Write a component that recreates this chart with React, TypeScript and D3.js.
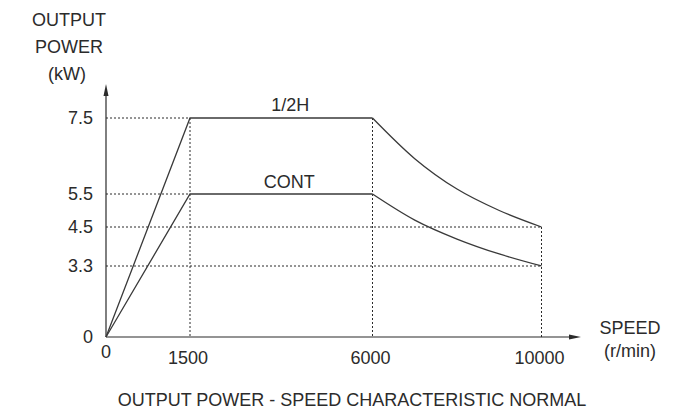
import React from "react";
import * as d3 from "d3";

const speedTicks = [0, 1500, 6000, 10000];
const powerTicks = [0, 3.3, 4.5, 5.5, 7.5];

// 1/2H rating
const halfSpeedRise = [0, 1500, 6000];
const halfPowerRise = [0, 7.5, 7.5];
const halfSpeedFall = [6000, 7000, 8000, 9000, 10000];
const halfPowerFall = [7.5, 6.43, 5.63, 5.0, 4.5];

// continuous rating
const contSpeedRise = [0, 1500, 6000];
const contPowerRise = [0, 5.5, 5.5];
const contSpeedFall = [6000, 7000, 8000, 9000, 10000];
const contPowerFall = [5.5, 4.71, 4.13, 3.67, 3.3];

// dotted guide lines: power level -> speed where it ends
const guidePower = [7.5, 5.5, 4.5, 3.3];
const guideSpeedEnd = [1500, 1500, 10000, 10000];
const guideSpeed = [1500, 6000, 10000];
const guidePowerTop = [7.5, 7.5, 4.5];

const W = 673;
const H = 413;
const FONT = "'Liberation Sans', Arial, sans-serif";
const INK = "#2b2b2b";
const FS = 18;

export default function App() {
  // the drawing is schematic, so both axes are piecewise linear
  const x = d3.scaleLinear().domain(speedTicks).range([106, 190, 372.5, 541.5]);
  const y = d3.scaleLinear().domain(powerTicks).range([337, 266, 227, 194, 118]);

  const straight = d3
    .line<[number, number]>()
    .x((d) => x(d[0]))
    .y((d) => y(d[1]));
  const smooth = d3
    .line<[number, number]>()
    .x((d) => x(d[0]))
    .y((d) => y(d[1]))
    .curve(d3.curveMonotoneX);

  const zip = (a: number[], b: number[]) =>
    a.map((v, i) => [v, b[i]] as [number, number]);

  const axisTop = 84;
  const axisRight = 581;
  const x0 = x(0);
  const y0 = y(0);

  return (
    <svg
      width={W}
      height={H}
      style={{ position: "absolute", left: 0, top: 0, background: "#fff" }}
      fontFamily={FONT}
    >
      {/* guides */}
      <g stroke={INK} strokeWidth={1} strokeDasharray="2,2" fill="none">
        {guidePower.map((p, i) => (
          <line key={"h" + i} x1={x0} x2={x(guideSpeedEnd[i])} y1={y(p)} y2={y(p)} />
        ))}
        {guideSpeed.map((s, i) => (
          <line key={"v" + i} x1={x(s)} x2={x(s)} y1={y(guidePowerTop[i])} y2={y0} />
        ))}
      </g>

      {/* axes */}
      <g stroke={INK} strokeWidth={1.2}>
        <line x1={x0} x2={axisRight - 8} y1={y0} y2={y0} />
        <line x1={x0} x2={x0} y1={y0} y2={axisTop + 8} />
      </g>
      <path
        d={`M${axisRight},${y0} L${axisRight - 12},${y0 - 2.5} L${axisRight - 12},${y0 + 2.5} Z`}
        fill={INK}
      />
      <path
        d={`M${x0},${axisTop} L${x0 - 2.5},${axisTop + 12} L${x0 + 2.5},${axisTop + 12} Z`}
        fill={INK}
      />

      {/* curves */}
      <g stroke="#3a3a3a" strokeWidth={1.3} fill="none">
        <path d={straight(zip(halfSpeedRise, halfPowerRise)) ?? ""} />
        <path d={smooth(zip(halfSpeedFall, halfPowerFall)) ?? ""} />
        <path d={straight(zip(contSpeedRise, contPowerRise)) ?? ""} />
        <path d={smooth(zip(contSpeedFall, contPowerFall)) ?? ""} />
      </g>

      {/* tick labels */}
      <g fill={INK} fontSize={FS}>
        {powerTicks.map((p) => (
          <text key={p} x={x0 - 13} y={y(p)} textAnchor="end" dominantBaseline="central">
            {p === 0 ? "0" : p.toFixed(1)}
          </text>
        ))}
        {speedTicks.map((s) => (
          <text
            key={s}
            x={x(s) - (s === 0 ? 0 : 2)}
            y={s === 0 ? y0 + 15 : y0 + 21}
            textAnchor="middle"
            dominantBaseline="central"
          >
            {s}
          </text>
        ))}
      </g>

      {/* curve labels */}
      <g fill={INK} fontSize={FS} textAnchor="middle">
        <text x={(x(1500) + x(6000)) / 2 + 9} y={y(7.5) - 7}>1/2H</text>
        <text x={(x(1500) + x(6000)) / 2 + 8} y={y(5.5) - 6}>CONT</text>
      </g>

      {/* axis titles */}
      <g fill={INK} fontSize={FS} textAnchor="middle">
        <text x={69} y={26}>OUTPUT</text>
        <text x={69} y={53}>POWER</text>
        <text x={67} y={80}>(kW)</text>
        <text x={630} y={334}>SPEED</text>
        <text x={630} y={357}>(r/min)</text>
        <text x={352} y={406}>OUTPUT POWER - SPEED CHARACTERISTIC NORMAL</text>
      </g>
    </svg>
  );
}
